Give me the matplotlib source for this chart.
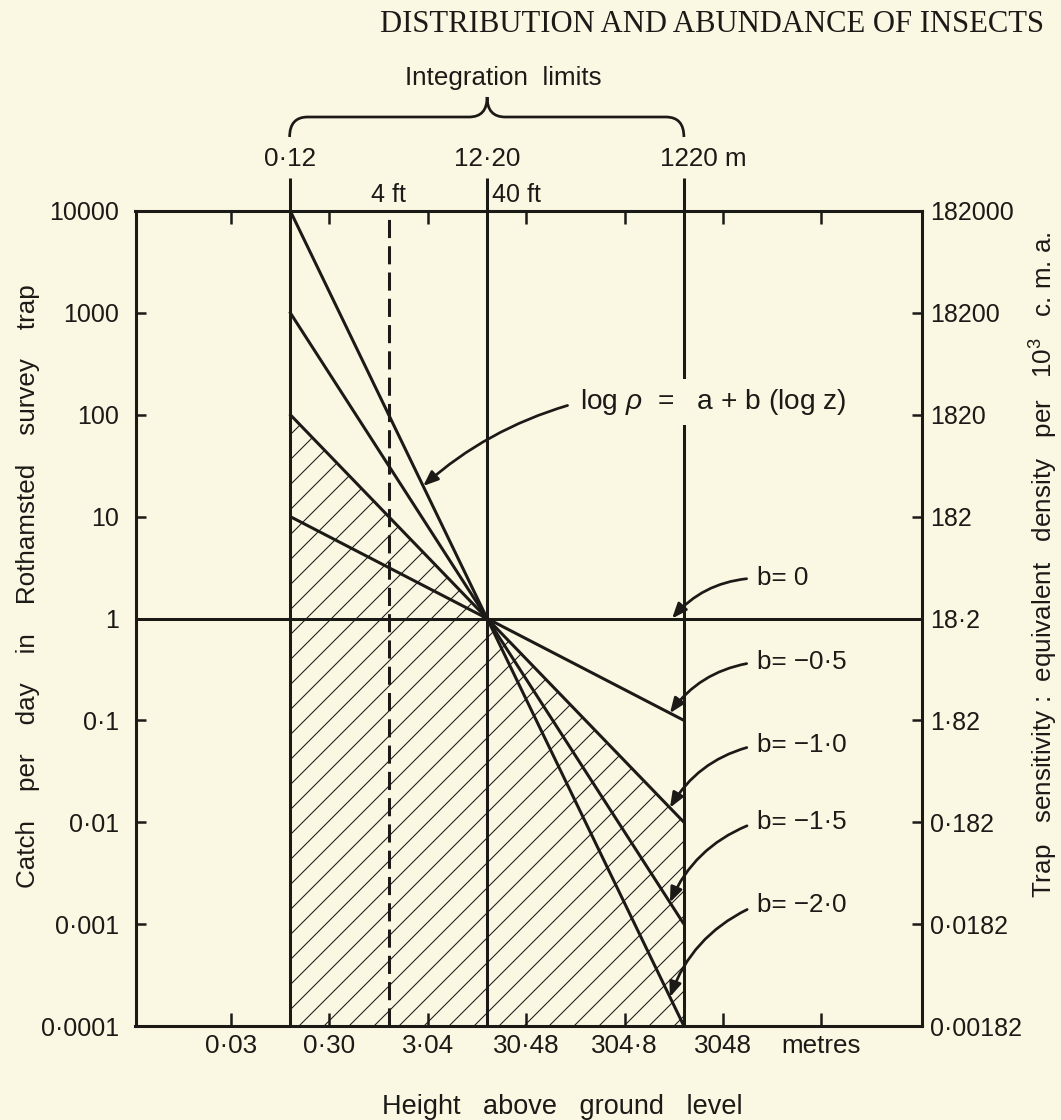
import numpy as np
import matplotlib
matplotlib.use("Agg")
import matplotlib.pyplot as plt
from matplotlib.patches import Polygon, PathPatch
from matplotlib.path import Path
from matplotlib.ticker import NullLocator
from matplotlib.transforms import blended_transform_factory, offset_copy, IdentityTransform

W, H, DPI = 1061, 1120, 150
PAPER = '#FAF7E2'
INK = '#1b1a17'

plt.rcParams['font.family'] = ['Liberation Sans', 'DejaVu Sans']
plt.rcParams['mathtext.fontset'] = 'custom'
plt.rcParams['mathtext.rm'] = 'Liberation Sans'
plt.rcParams['mathtext.it'] = 'Liberation Sans:italic'
plt.rcParams['mathtext.bf'] = 'Liberation Sans:bold'
plt.rcParams['hatch.linewidth'] = 0.5
plt.rcParams['hatch.color'] = INK
plt.rcParams['text.color'] = INK

# ---------------- data ----------------
z_ref = 12.2                              # pivot height (m) where catch = 1
z_limits = [0.12, 12.2, 1220.0]           # integration limits (m)
z_limit_labels = ['0·12', '12·20', '1220 m']
z_4ft = 1.22                              # standard trap height, 4 ft
slopes = [0.0, -0.5, -1.0, -1.5, -2.0]
slope_labels = ['b= 0', 'b= −0·5', 'b= −1·0', 'b= −1·5', 'b= −2·0']
hatched_slope = -1.0

x_ticks = [0.03048, 0.3048, 3.048, 30.48, 304.8, 3048.0, 30480.0]
x_ticklabels = ['0·03', '0·30', '3·04', '30·48', '304·8', '3048', 'metres']
catch_ticks = [1e-4, 1e-3, 1e-2, 1e-1, 1, 10, 100, 1000, 10000]
catch_ticklabels = ['0·0001', '0·001', '0·01', '0·1', '1', '10', '100', '1000', '10000']
density_factor = 18.2
density_ticklabels = ['0·00182', '0·0182', '0·182', '1·82', '18·2', '182',
                      '1820', '18200', '182000']

# label anchor points (image pixels, from top-left) and arrow target heights (m)
slope_label_pos = [(757, 578), (757, 662), (757, 745), (757, 822), (757, 905)]
slope_arrow_z = [925.0, 880.0, 880.0, 880.0, 880.0]
formula_pos = (580, 402)
formula_arrow_z = 2.73

# ---------------- figure ----------------
fig = plt.figure(figsize=(W / DPI, H / DPI), dpi=DPI, facecolor=PAPER)
L, R, T, B = 135.5, 922.0, 211.0, 1026.0
ax = fig.add_axes([L / W, 1 - B / H, (R - L) / W, (B - T) / H])
ax.set_facecolor(PAPER)
ax.set_xscale('log')
ax.set_yscale('log')
ax.set_xlim(10 ** -2.487, 10 ** 5.506)
ax.set_ylim(1e-4, 1e4)

LW = 1.45

# hatched area under the b = -1 profile between the outer limits
zh = np.array([z_limits[0], z_limits[-1]])
rh = (zh / z_ref) ** hatched_slope
ybot = ax.get_ylim()[0]
ax.add_patch(Polygon([(zh[0], ybot), (zh[0], rh[0]), (zh[1], rh[1]), (zh[1], ybot)],
                     closed=True, facecolor='none', edgecolor=INK, lw=0,
                     hatch='//', zorder=1))

# density profiles log(rho) = a + b log(z), all through (z_ref, 1)
for b in slopes:
    if b == 0:
        z = np.array(ax.get_xlim())
    else:
        z = np.array([z_limits[0], z_limits[-1]])
    ax.plot(z, (z / z_ref) ** b, color=INK, lw=LW, solid_capstyle='butt', zorder=3)

# vertical markers
bt = blended_transform_factory(ax.transData, ax.transAxes)
top_ext = 1 + 33 / (B - T)
for z in z_limits:
    ax.plot([z, z], [0, top_ext], transform=bt, color=INK, lw=LW,
            solid_capstyle='butt', clip_on=False, zorder=3)
ax.plot([z_4ft, z_4ft], [0, 1], transform=bt, color=INK, lw=LW,
        ls=(0, (6, 2.7)), zorder=3)

# axes, ticks
ax.set_xticks(x_ticks)
ax.set_xticklabels(x_ticklabels)
ax.xaxis.set_minor_locator(NullLocator())
ax.set_yticks(catch_ticks)
ax.set_yticklabels(catch_ticklabels)
ax.yaxis.set_minor_locator(NullLocator())
ax.tick_params(axis='x', direction='in', length=6.2, width=1.2, top=True,
               bottom=True, labelsize=12.5, pad=4.0, colors=INK)
ax.tick_params(axis='y', direction='in', length=4.8, width=1.2, left=True,
               right=False, labelsize=12, pad=8, colors=INK)

ax2 = ax.twinx()
ax2.set_yscale('log')
ax2.set_ylim(1e-4 * density_factor, 1e4 * density_factor)
ax2.set_yticks([t * density_factor for t in catch_ticks])
ax2.set_yticklabels(density_ticklabels)
ax2.yaxis.set_minor_locator(NullLocator())
ax2.tick_params(axis='y', direction='in', length=4.8, width=1.2, labelsize=12,
                pad=4, colors=INK)
for a in (ax, ax2):
    for s in a.spines.values():
        s.set_linewidth(LW)
        s.set_color(INK)


def fy(y):
    return 1 - y / H


# labels above the frame
tb = blended_transform_factory(ax.transData, fig.transFigure)
for z, lab in zip(z_limits, z_limit_labels):
    tr = offset_copy(tb, fig=fig, x=19, y=0, units='dots') if lab.endswith('m') else tb
    ax.text(z, fy(159), lab, transform=tr, ha='center', va='center', fontsize=12.5)
ax.text(z_4ft, fy(195), '4 ft', transform=tb, ha='center', va='center', fontsize=12)
ax.text(z_limits[1], fy(195), '40 ft', transform=offset_copy(tb, fig=fig, x=5, units='dots'),
        ha='left', va='center', fontsize=12)

# brace over the integration limits
xl = ax.transData.transform((z_limits[0], 1))[0]
xm = ax.transData.transform((z_limits[1], 1))[0]
xr = ax.transData.transform((z_limits[2], 1))[0]
yb, yh, yp = H - 137, H - 117, H - 97
r = 18
verts = [(xl, yb), (xl, yh), (xl + r, yh), (xm - r, yh), (xm, yh), (xm, yp),
         (xm, yh), (xm + r, yh), (xr - r, yh), (xr, yh), (xr, yb)]
codes = [Path.MOVETO, Path.CURVE3, Path.CURVE3, Path.LINETO, Path.CURVE3, Path.CURVE3,
         Path.CURVE3, Path.CURVE3, Path.LINETO, Path.CURVE3, Path.CURVE3]
fig.add_artist(PathPatch(Path(verts, codes), transform=IdentityTransform(),
                         fill=False, lw=1.3, edgecolor=INK))
fig.text(503 / W, fy(78), 'Integration  limits', ha='center', va='center', fontsize=12.5)

# title
fig.text(712 / W, fy(24), 'DISTRIBUTION AND ABUNDANCE OF INSECTS',
         family=['Liberation Serif', 'DejaVu Serif'], ha='center', va='center', fontsize=14.7)

# formula with arrow to the steepest profile
b_f = slopes[-1]
ax.annotate(r'log $\rho$  =   a + b (log z)',
            xy=(formula_arrow_z, (formula_arrow_z / z_ref) ** b_f), xycoords='data',
            xytext=(formula_pos[0], H - formula_pos[1]), textcoords='figure pixels',
            ha='left', va='center', fontsize=13.5, zorder=5,
            bbox=dict(facecolor=PAPER, edgecolor='none', pad=4),
            arrowprops=dict(arrowstyle='-|>,head_length=0.5,head_width=0.2',
                            connectionstyle='arc3,rad=0.12', color=INK, lw=1.3,
                            shrinkA=2, shrinkB=0, relpos=(0, 0.5), mutation_scale=12))

# slope labels with arrows
for b, lab, (px, py), zt in zip(slopes, slope_labels, slope_label_pos, slope_arrow_z):
    ax.annotate(lab, xy=(zt, (zt / z_ref) ** b), xycoords='data',
                xytext=(px, H - py), textcoords='figure pixels',
                ha='left', va='center', fontsize=12.5, zorder=5,
                arrowprops=dict(arrowstyle='-|>,head_length=0.5,head_width=0.2',
                                connectionstyle='arc3,rad=0.22', color=INK, lw=1.3,
                                shrinkA=3, shrinkB=0, relpos=(0, 0.5), mutation_scale=12))

# axis titles
fig.text(562 / W, fy(1107), 'Height   above   ground   level', ha='center', va='center',
         fontsize=13)
fig.text(28 / W, fy(586), 'Catch    per    day    in    Rothamsted    survey    trap',
         rotation=90, ha='center', va='center', fontsize=12.5)
fig.text(1044 / W, fy(565),
         r'Trap   sensitivity :  equivalent   density   per   10$^3$   c. m. a.',
         rotation=90, ha='center', va='center', fontsize=12.5)

fig.savefig('out.png', dpi=DPI, facecolor=PAPER)
